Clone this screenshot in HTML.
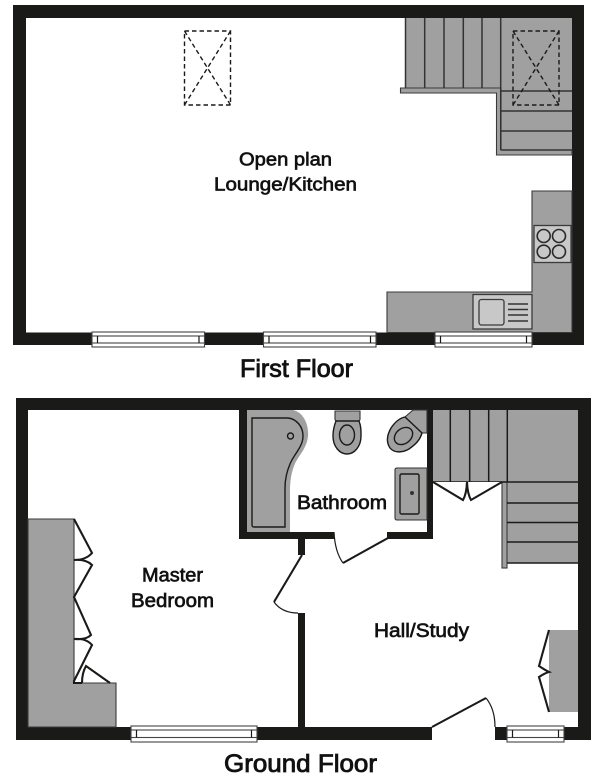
<!DOCTYPE html>
<html>
<head>
<meta charset="utf-8">
<style>
html,body{margin:0;padding:0;background:#fff;width:608px;height:783px;overflow:hidden}
svg{display:block}
text{font-family:"Liberation Sans",Arial,sans-serif;fill:#111;stroke:#111;stroke-width:.65}
.g{fill:#a0a0a0;stroke:#3a3a3a;stroke-width:1.1}
.l{stroke:#333;stroke-width:1.5;fill:none}
.s{fill:#c8c8c8;stroke:#3a3a3a;stroke-width:1.3}
.w{fill:#fff;stroke:#444;stroke-width:1.1}
.k{fill:#1a1a18}
.d{fill:none;stroke:#1a1a18;stroke-width:2.1;stroke-linejoin:miter}
.t{fill:none;stroke:#1a1a18;stroke-width:1.2}
.h{fill:none;stroke:#1a1a18;stroke-width:1.4;stroke-dasharray:4.500 3}
</style>
</head>
<body>
<svg width="608" height="783" viewBox="0 0 608 783" xmlns="http://www.w3.org/2000/svg">
<!-- FIRST FLOOR -->
<path class="k" fill-rule="evenodd" d="M13 5H584V345H13ZM26 18V332.500H572V18Z"/>
<!-- upper stairs -->
<rect x="501" y="18" width="71" height="132" fill="#a0a0a0"/>
<rect x="405" y="18" width="96" height="70" fill="#a0a0a0"/>
<path class="g" d="M400.500 88H501V150H572V155H496.500V93H400.500Z"/>
<path class="l" d="M405.500 18V88M424.700 18V88M444 18V88M463.300 18V88M482 18V88M500.700 18V150M501 91H572M501 111H572M501 131H572M501 150H572"/>
<!-- skylights -->
<g class="h"><rect x="513" y="31" width="46" height="74"/><path d="M513 31L559 105M559 31L513 105"/></g>
<g class="h"><rect x="184.500" y="31" width="46" height="74"/><path d="M184.500 31L230.500 105M230.500 31L184.500 105"/></g>
<!-- kitchen -->
<path class="g" d="M532 191H572V332.500H387V292H532Z"/>
<rect class="s" x="534" y="225.500" width="37" height="37"/>
<g fill="#c8c8c8" stroke="#2a2a2a" stroke-width="1.600">
<circle cx="543.700" cy="236" r="6.500"/><circle cx="559" cy="236" r="6.500"/>
<circle cx="543.700" cy="251.700" r="6.500"/><circle cx="559" cy="251.700" r="6.500"/>
</g>
<rect class="s" x="473" y="294.500" width="59" height="34.500"/>
<rect class="s" x="479" y="299.500" width="25" height="25.500" rx="2.500"/>
<path class="l" d="M508 304H528M508 309.500H528M508 315H528M508 321H528"/>
<!-- windows first floor -->
<g>
<rect class="w" x="92" y="332" width="112.500" height="15"/>
<rect class="w" x="92" y="336" width="112.500" height="7"/>
<path class="t" d="M97.500 336V343M199 336V343"/>
<rect class="w" x="263.500" y="332" width="112.500" height="15"/>
<rect class="w" x="263.500" y="336" width="112.500" height="7"/>
<path class="t" d="M269 336V343M370.500 336V343"/>
<rect class="w" x="435" y="332" width="97" height="15"/>
<rect class="w" x="435" y="336" width="97" height="7"/>
<path class="t" d="M440.500 336V343M526.500 336V343"/>
</g>
<text x="239" y="165.500" font-size="18.500" textLength="93" lengthAdjust="spacingAndGlyphs">Open plan</text>
<text x="214" y="190.500" font-size="18.500" textLength="143" lengthAdjust="spacingAndGlyphs">Lounge/Kitchen</text>
<text x="240" y="377" font-size="25" textLength="113" lengthAdjust="spacingAndGlyphs" style="stroke-width:.85">First Floor</text>

<!-- GROUND FLOOR -->
<path class="k" d="M16 398H591V740H495V727H578V410H28V727H432V740H16Z"/>
<!-- stairs -->
<rect x="433" y="410" width="145" height="72" fill="#a0a0a0"/>
<rect x="507" y="482" width="71" height="81" fill="#a0a0a0"/>
<rect x="502" y="482" width="5" height="86" fill="#a0a0a0" stroke="#3a3a3a" stroke-width="1.100"/>
<path class="l" d="M450.300 410V482M469.700 410V482M488.700 410V482M507.300 410V482M433 482H578M507 503H578M507 522.500H578M507 542H578M507 563H578" style="stroke:#1a1a18"/>
<!-- stair doors -->
<path d="M433 482L463 500Q466.500 494 467 482Q467.500 494 471 500L502 482" fill="#fff" stroke="#1a1a18" stroke-width="2.100"/>
<!-- bathroom walls -->
<path class="k" d="M239 410H247V532H334V539H239Z"/>
<path class="k" d="M387 532H427V410H433V539H387Z"/>
<!-- bath -->
<path d="M247 410H293C303 412 309 424 308 436C307 449 297 457 294 466C291 474 290 482 290 492V532H247Z" fill="#a0a0a0"/>
<path d="M252 418H288C297 419 303 427 303 436C303 447 294 454 290 464C287 471 285 478 285 488V527H254Q252 527 252 525Z" fill="#a0a0a0" stroke="#1a1a18" stroke-width="1.400"/>
<circle cx="290.500" cy="436" r="3" fill="#a0a0a0" stroke="#1a1a18" stroke-width="1.400"/>
<!-- wc 1 -->
<path d="M335 411H360V419Q360 421 358 421H337Q335 421 335 419Z" fill="#a0a0a0" stroke="#333" stroke-width="1.100"/>
<path d="M336 421H359C361 426 361 430 361 436C361 447 354 454 347 454C340 454 333 447 333 436C333 430 334 426 336 421Z" fill="#a0a0a0" stroke="#1a1a18" stroke-width="1.400"/>
<ellipse cx="347" cy="435" rx="7.500" ry="10" fill="#a0a0a0" stroke="#1a1a18" stroke-width="1.400"/>
<!-- wc 2 -->
<path d="M405 417L413 410H427V433H422Z" fill="#a0a0a0" stroke="#333" stroke-width="1.100"/>
<path d="M405 417L422 433C420 440 416 444 409 449C402 453 394 453 390 448C386 442 387 435 391 428C395 422 400 418 405 417Z" fill="#a0a0a0" stroke="#1a1a18" stroke-width="1.400"/>
<ellipse cx="403.500" cy="436" rx="10" ry="7.500" transform="rotate(-38 403.500 436)" fill="#a0a0a0" stroke="#1a1a18" stroke-width="1.400"/>
<!-- basin -->
<path d="M427 468H397Q395 468 395 470V518Q395 520 397 520H427Z" fill="#a0a0a0" stroke="#333" stroke-width="1.100"/>
<rect x="400" y="474" width="19" height="40" rx="1.500" fill="#a0a0a0" stroke="#1a1a18" stroke-width="1.400"/>
<circle cx="412" cy="493" r="2" fill="#333"/>
<!-- bathroom door -->
<path d="M388 538L343 563" class="d"/>
<path d="M334 532Q335 552 343 563" class="t"/>
<!-- partition -->
<rect class="k" x="298" y="539" width="7" height="16"/>
<rect class="k" x="298" y="613" width="7" height="114"/>
<path d="M302 555L274 602" class="d"/>
<path d="M274 602Q282 613 298 613" class="t"/>
<!-- left wardrobe -->
<path d="M28 519H74V683H116V727H28Z" fill="#a0a0a0" stroke="#3a3a3a" stroke-width="1.100"/>
<path d="M74 519L92 553Q86 560 74 560Q86 559 92 565L74 597L91 635Q86 640 74 639Q86 638 92 645L74 681V683H82" class="d"/>
<path d="M82 683Q82 673 86 666L110 683" class="d"/>
<!-- right wardrobe -->
<rect x="549" y="630" width="29" height="82" fill="#a0a0a0"/>
<path d="M549 630L539 666Q545 670 549 672Q545 673 539 677L549 712" class="d"/>
<!-- entrance door -->
<path d="M432 727L486 698" class="d"/>
<path d="M486 698Q495 709 495 727" class="t"/>
<!-- windows ground floor -->
<rect class="w" x="131" y="726" width="126" height="16"/>
<rect class="w" x="131" y="730" width="126" height="7.500"/>
<path class="t" d="M136.500 730V737.500M251.500 730V737.500"/>
<rect class="w" x="507" y="726" width="57" height="16"/>
<rect class="w" x="507" y="730" width="57" height="7.500"/>
<path class="t" d="M512.500 730V737.500M558.500 730V737.500"/>
<text x="297" y="509" font-size="19" textLength="90" lengthAdjust="spacingAndGlyphs">Bathroom</text>
<text x="142" y="581.500" font-size="19" textLength="61" lengthAdjust="spacingAndGlyphs">Master</text>
<text x="131" y="607" font-size="19" textLength="83" lengthAdjust="spacingAndGlyphs">Bedroom</text>
<text x="374" y="637" font-size="19" textLength="95" lengthAdjust="spacingAndGlyphs">Hall/Study</text>
<text x="224" y="772" font-size="25" textLength="153" lengthAdjust="spacingAndGlyphs" style="stroke-width:.85">Ground Floor</text>
</svg>
</body>
</html>
